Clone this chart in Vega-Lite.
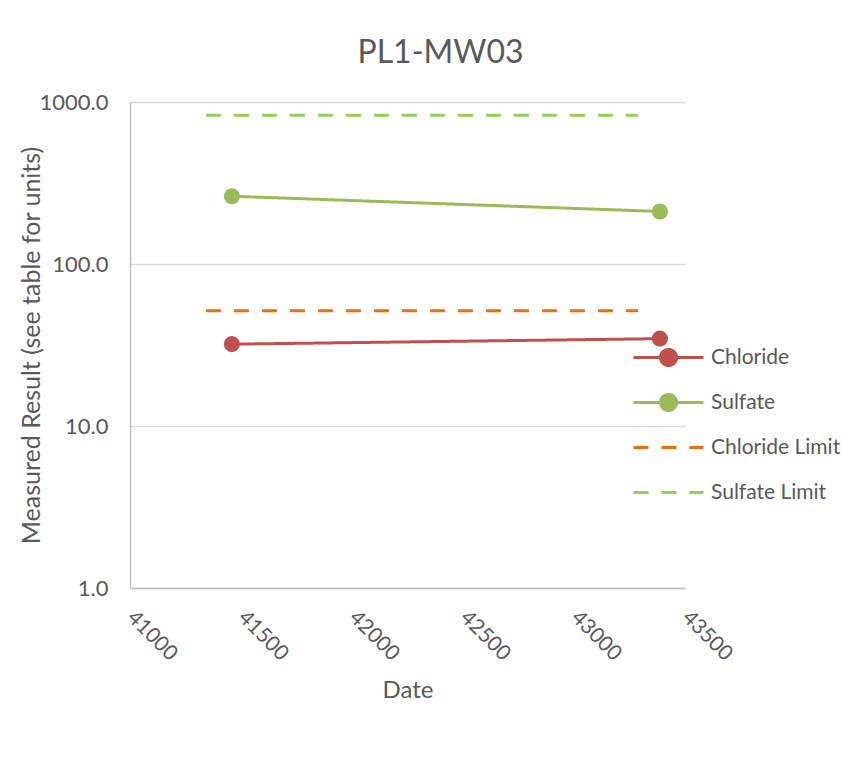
{
  "$schema": "https://vega.github.io/schema/vega-lite/v6.json",
  "autosize": "none",
  "padding": {"left": 130, "top": 102, "right": 180, "bottom": 184},
  "width": 555,
  "height": 486,
  "background": "white",
  "config": {
    "font": "Lato",
    "view": {"stroke": null},
    "axis": {"labelColor": "#595959", "titleColor": "#595959", "labelFont": "Lato", "titleFont": "Lato", "titleFontWeight": "normal"}
  },
  "title": {"text": "PL1-MW03", "fontSize": 32, "font": "Lato", "fontWeight": "normal", "color": "#595959", "dx": 33, "offset": 21},
  "data": {"values": [
    {"series": "Chloride", "date": 41459, "value": 32.0},
    {"series": "Chloride", "date": 43387, "value": 34.6},
    {"series": "Sulfate", "date": 41459, "value": 262},
    {"series": "Sulfate", "date": 43387, "value": 211},
    {"series": "Chloride Limit", "date": 41342, "value": 51.4},
    {"series": "Chloride Limit", "date": 43288, "value": 51.4},
    {"series": "Sulfate Limit", "date": 41342, "value": 828},
    {"series": "Sulfate Limit", "date": 43288, "value": 828}
  ]},
  "encoding": {
    "x": {"field": "date", "type": "quantitative",
      "scale": {"domain": [41000, 43500], "nice": false, "zero": false},
      "axis": {"title": "Date", "values": [41000, 41500, 42000, 42500, 43000, 43500], "format": "d",
        "grid": false, "ticks": false, "domainColor": "#BFBFBF", "domainWidth": 1.5,
        "labelAngle": 45, "labelAlign": "left", "labelBaseline": "middle", "labelFontSize": 21, "labelPadding": 26,
        "titleFontSize": 24, "titlePadding": 14}},
    "y": {"field": "value", "type": "quantitative",
      "scale": {"type": "log", "domain": [1, 1000], "nice": false},
      "axis": {"title": "Measured Result (see table for units)", "values": [1, 10, 100, 1000], "format": ".1f",
        "grid": true, "gridColor": "#D9D9D9", "gridWidth": 1.5, "ticks": false, "domainColor": "#BFBFBF", "domainWidth": 1.5,
        "labelFontSize": 22, "labelPadding": 22, "titleFontSize": 25, "titlePadding": -5}},
    "color": {"field": "series", "type": "nominal",
      "scale": {"domain": ["Chloride", "Sulfate", "Chloride Limit", "Sulfate Limit"], "range": ["#C0504D", "#9BBB59", "#E8700F", "#92D050"]}}
  },
  "layer": [
    {
      "mark": {"type": "line", "strokeWidth": 3},
      "encoding": {
        "strokeDash": {"field": "series", "type": "nominal",
          "scale": {"domain": ["Chloride", "Sulfate", "Chloride Limit", "Sulfate Limit"], "range": [[1, 0], [1, 0], [15, 13], [15, 13]]}},
        "color": {"field": "series", "type": "nominal",
          "scale": {"domain": ["Chloride", "Sulfate", "Chloride Limit", "Sulfate Limit"], "range": ["#C0504D", "#9BBB59", "#E8700F", "#92D050"]},
          "legend": {"title": null, "orient": "none", "legendX": 556, "legendY": 245, "padding": 0,
            "labelFontSize": 21, "labelColor": "#595959", "labelFont": "Lato", "labelOffset": 4,
            "symbolSize": 196, "symbolStrokeWidth": 3, "rowPadding": 16, "gridAlign": "all",
            "encode": {"symbols": {"update": {
              "shape": {"signal": "indexof(['Chloride','Sulfate'], datum.value) >= 0 ? 'M-9,0H1M-2.85,0A1.15,1.15 0 1,1 -5.15,0A1.15,1.15 0 1,1 -2.85,0Z' : 'M-9,0H1'"},
              "fill": {"signal": "indexof(['Chloride','Sulfate'], datum.value) >= 0 ? scale('color', datum.value) : 'transparent'"}
            }}}}
        }
      }
    },
    {
      "transform": [{"filter": "datum.series === 'Chloride' || datum.series === 'Sulfate'"}],
      "mark": {"type": "point", "filled": true, "opacity": 1, "size": 260, "shape": "circle"},
      "encoding": {
        "color": {"field": "series", "type": "nominal",
          "scale": {"domain": ["Chloride", "Sulfate", "Chloride Limit", "Sulfate Limit"], "range": ["#C0504D", "#9BBB59", "#E8700F", "#92D050"]},
          "legend": null}
      }
    }
  ]
}
